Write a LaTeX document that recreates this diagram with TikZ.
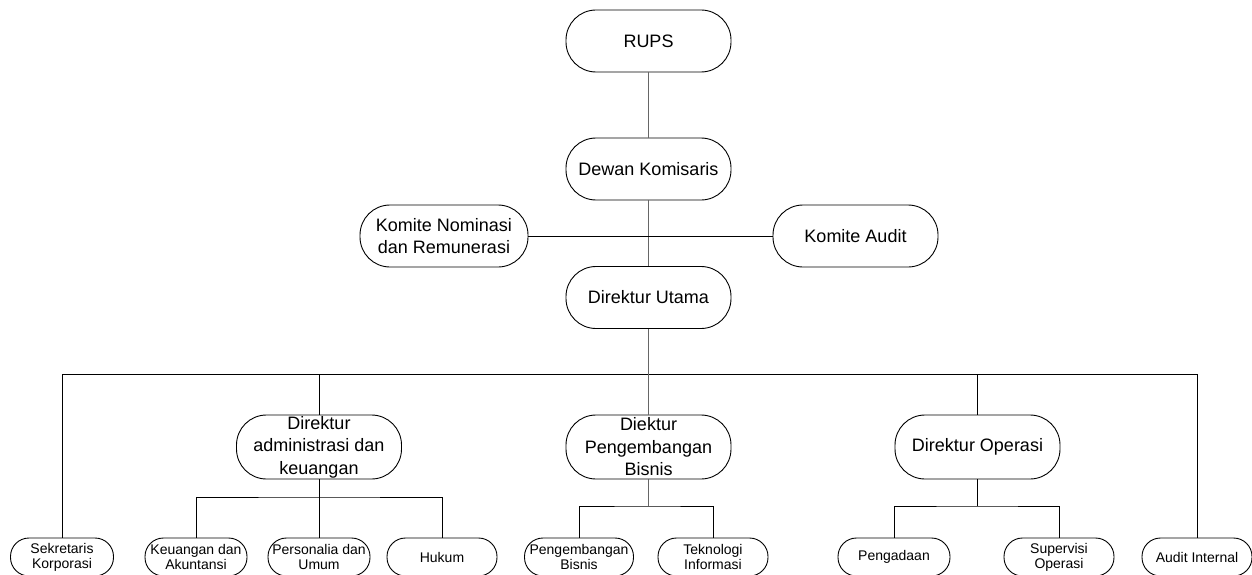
\documentclass[tikz,border=0pt]{standalone}
\usepackage{fontspec}
\setmainfont{Liberation Sans}
\begin{document}
\begin{tikzpicture}[x=1pt,y=-1pt,
  big/.style={draw, line width=0.9pt, rounded corners=30pt, minimum width=165pt, minimum height=62pt, align=center, font=\fontsize{18}{22.5}\selectfont, inner sep=0pt},
  small/.style={draw, line width=0.9pt, rounded corners=18.5pt, minimum width=106pt, minimum height=38pt, align=center, font=\fontsize{14}{15}\selectfont, inner sep=0pt},
  link/.style={line width=0.9pt, black},
  spine/.style={line width=1.1pt, black!60}]
\useasboundingbox (0,0) rectangle (1252,575);
\clip (0,0) rectangle (1252,575);
% top chain
\node[big] (rups) at (648.5,41) {RUPS};
\node[big] (dewan) at (648.5,169) {Dewan Komisaris};
\node[big, minimum width=168pt] (kn) at (444,236) {Komite Nominasi\\dan Remunerasi};
\node[big] (ka) at (855.5,236) {Komite Audit};
\node[big] (du) at (648.5,297.5) {Direktur Utama};
% second level
\node[big, minimum height=64pt] (dadm) at (319,447) {Direktur\\administrasi dan\\keuangan};
\node[big, minimum height=64pt] (dpb) at (648.5,447) {Diektur\\Pengembangan\\Bisnis};
\node[big, minimum height=64pt] (dop) at (977.5,447) {Direktur Operasi};
% bottom level
\node[small, minimum width=103pt] (sek) at (62,557) {Sekretaris\\Korporasi};
\node[small, minimum width=102pt] (keu) at (196,557) {Keuangan dan\\Akuntansi};
\node[small, minimum width=102pt] (per) at (319,557) {Personalia dan\\Umum};
\node[small, minimum width=110pt] (huk) at (442,557) {Hukum};
\node[small, minimum width=109pt] (pb) at (579,557) {Pengembangan\\Bisnis};
\node[small, minimum width=110pt] (ti) at (713,557) {Teknologi\\Informasi};
\node[small, minimum width=112pt] (pg) at (894,557) {Pengadaan};
\node[small, minimum width=110pt] (so) at (1059,557) {Supervisi\\Operasi};
\node[small, minimum width=110pt] (ai) at (1197,557) {Audit Internal};
% junction coordinates
\coordinate (bus) at (648.5,374);
\coordinate (sa) at (319,497);
\coordinate (sp) at (648.5,506);
\coordinate (so2) at (977.5,506);
% connectors
\draw[spine] (rups.south) -- (dewan.north);
\draw[spine] (dewan.south) -- (du.north);
\draw[link] (kn.east) -- (ka.west);
\draw[spine] (du.south) -- (bus);
\draw[link] (sek.north) |- (bus) -| (ai.north);
\draw[link] (bus) -| (dadm.north);
\draw[link] (bus) -| (dop.north);
\draw[spine] (bus) -- (dpb.north);
\draw[link] (dadm.south) -- (sa);
\draw[link] (keu.north) |- (sa) -| (huk.north);
\draw[link] (sa) -- (per.north);
\draw[spine] (dpb.south) -- (sp);
\draw[link] (pb.north) |- (sp) -| (ti.north);
\draw[link] (dop.south) -- (so2);
\draw[link] (pg.north) |- (so2) -| (so.north);
\end{tikzpicture}
\end{document}
